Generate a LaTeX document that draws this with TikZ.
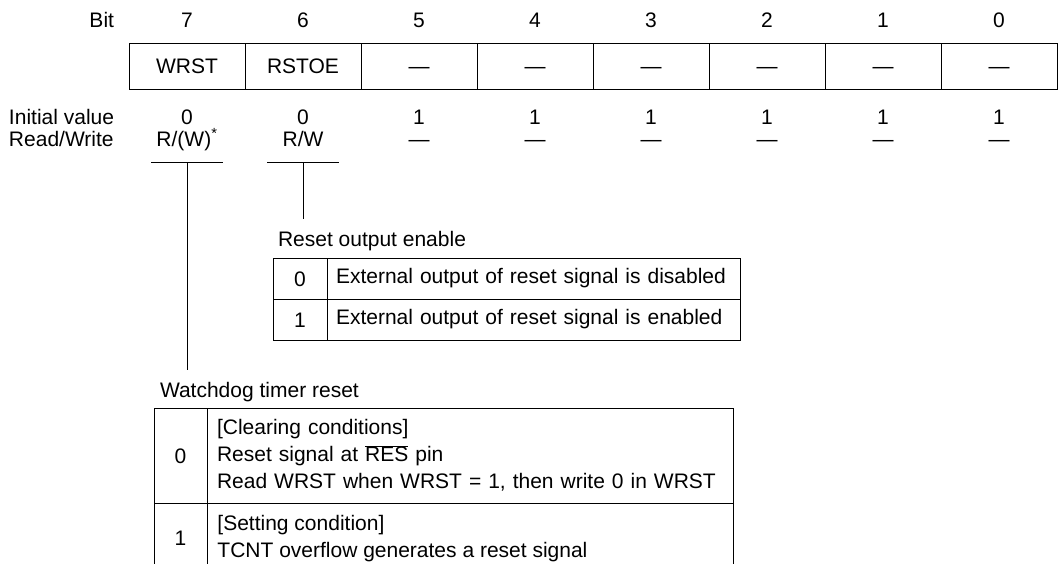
\documentclass[tikz,border=0pt]{standalone}
\usepackage{fontspec}
\setmainfont{Liberation Sans}
\usetikzlibrary{positioning,calc}
\newcommand{\regfont}{\fontsize{21}{27}\selectfont}
\tikzset{
    regcell/.style={
        rectangle,                % celda del registro (un bit)
        draw,
        outer sep=0pt,            % sin separación: las celdas se tocan
        inner sep=0pt,
        minimum width=116pt,      % ancho de cada bit
        minimum height=46pt,
        text height=15pt,         % altura fija → todas las letras en la misma línea base
        text depth=0pt
    },
    plaintxt/.style={
        inner sep=0pt,            % texto suelto, sin marco
        outer sep=0pt,
        text height=15pt,
        text depth=0pt
    },
    valcell/.style={
        rectangle,                % columna del valor (0 / 1) en las tablas
        draw,
        outer sep=0pt,
        inner sep=0pt,
        minimum width=#1,
        text height=15pt,
        text depth=0pt
    },
    desccell/.style={
        rectangle,                % columna de la descripción
        draw,
        outer sep=0pt,
        inner xsep=9pt,           % margen izquierdo del texto
        inner ysep=0pt,
        text width=#1,
        align=left                % texto alineado a la izquierda
    }
}
\begin{document}
\begin{tikzpicture}[x=1pt, y=-1pt, font=\regfont, line width=0.9pt, node distance=0pt]
    \useasboundingbox (0,0) rectangle (1059,563);
    \clip (0,0) rectangle (1059,563);

    \node[regcell] (r7) at (187,66) {WRST};
    \node[regcell, right=of r7] (r6) {RSTOE};
    \node[regcell, right=of r6] (r5) {—};
    \node[regcell, right=of r5] (r4) {—};
    \node[regcell, right=of r4] (r3) {—};
    \node[regcell, right=of r3] (r2) {—};
    \node[regcell, right=of r2] (r1) {—};
    \node[regcell, right=of r1] (r0) {—};

    \node[plaintxt, above=16pt of r7] (n7) {7};
    \node[plaintxt, above=16pt of r6] (n6) {6};
    \node[plaintxt, above=16pt of r5] (n5) {5};
    \node[plaintxt, above=16pt of r4] (n4) {4};
    \node[plaintxt, above=16pt of r3] (n3) {3};
    \node[plaintxt, above=16pt of r2] (n2) {2};
    \node[plaintxt, above=16pt of r1] (n1) {1};
    \node[plaintxt, above=16pt of r0] (n0) {0};

    \node[plaintxt, below=20pt of r7] (i7) {0};
    \node[plaintxt, below=20pt of r6] (i6) {0};
    \node[plaintxt, below=20pt of r5] (i5) {1};
    \node[plaintxt, below=20pt of r4] (i4) {1};
    \node[plaintxt, below=20pt of r3] (i3) {1};
    \node[plaintxt, below=20pt of r2] (i2) {1};
    \node[plaintxt, below=20pt of r1] (i1) {1};
    \node[plaintxt, below=20pt of r0] (i0) {1};

    \node[plaintxt, below=7pt of i7] (a7) {R/(W)\textsuperscript{*}};
    \node[plaintxt, below=7pt of i6] (a6) {R/W};
    \node[plaintxt, below=7pt of i5] (a5) {—};
    \node[plaintxt, below=7pt of i4] (a4) {—};
    \node[plaintxt, below=7pt of i3] (a3) {—};
    \node[plaintxt, below=7pt of i2] (a2) {—};
    \node[plaintxt, below=7pt of i1] (a1) {—};
    \node[plaintxt, below=7pt of i0] (a0) {—};

    \node[plaintxt, anchor=south east] (bitlbl) at (114,27) {Bit};
    \node[plaintxt, anchor=south west] (initlbl) at (9,124) {Initial value};
    \node[plaintxt, anchor=south west] (rwlbl) at (9,146) {Read/Write};

    \coordinate[below=16pt of a7] (u7);
    \coordinate[below=16pt of a6] (u6);
    \draw ([xshift=-36pt]u7) -- ([xshift=36pt]u7);
    \draw ([xshift=-36pt]u6) -- ([xshift=36pt]u6);

    \node[plaintxt, anchor=south west] (rot) at (278,246) {Reset output enable};
    \node[valcell=54pt, minimum height=41pt] (o0) at (300,278.5) {0};
    \node[desccell=395pt, minimum height=41pt, right=of o0] (od0) {External output of reset signal is disabled};
    \node[valcell=54pt, minimum height=41pt, below=of o0] (o1) {1};
    \node[desccell=395pt, minimum height=41pt, below=of od0] (od1) {External output of reset signal is enabled};

    \node[plaintxt, anchor=south west] (wdt) at (160,397) {Watchdog timer reset};
    \node[valcell=53pt, minimum height=95pt] (w0) at (180.5,455.5) {0};
    \node[desccell=506pt, inner xsep=10pt, minimum height=95pt, right=of w0] (wd0) {[Clearing conditions]\\Reset signal at $\overline{\hbox{RES}}$ pin\\Read WRST when WRST = 1, then write 0 in WRST};
    \node[draw, outer sep=0pt, minimum width=53pt, minimum height=130pt, below=of w0] (w1) {};
    \node[draw, outer sep=0pt, minimum width=526pt, minimum height=130pt, below=of wd0] (wd1) {};
    \node[plaintxt, below=27pt of w1.north] (w1v) {1};
    \node[anchor=north west, inner sep=0pt, align=left] (w1d) at ([xshift=10pt, yshift=-12pt]wd1.north west) {[Setting condition]\\TCNT overflow generates a reset signal};

    \draw[shorten >=12pt] (u7) -- (u7 |- wdt.north);
    \draw[shorten >=12pt] (u6) -- (u6 |- rot.north);
\end{tikzpicture}
\end{document}
